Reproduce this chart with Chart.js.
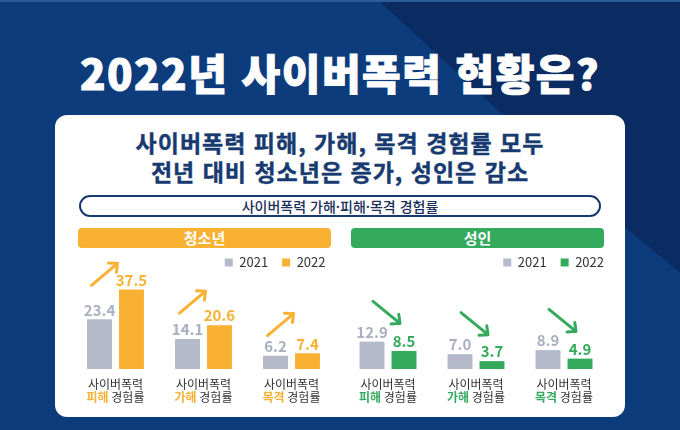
<!DOCTYPE html>
<html lang="ko">
<head>
<meta charset="UTF-8">
<title>2022년 사이버폭력 현황은?</title>
<script src="https://cdn.jsdelivr.net/npm/chart.js"></script>
<style>
  body { margin: 0; width: 680px; height: 430px; overflow: hidden; background: #0d3c7d; position: relative;
         font-family: 'Noto Sans CJK KR', 'Noto Sans', sans-serif; }
  .shade { position: absolute; left: 0; top: 0; width: 680px; height: 430px; background: #0a2c62;
           clip-path: polygon(378px 0, 680px 0, 680px 273px, 626px 228px); }
  .topline { position: absolute; left: 0; top: 0; width: 680px; height: 2px; background: #2b5b98; }
  h1 { position: absolute; left: 0; top: 49px; width: 680px; margin: 0; text-align: center; color: #fff;
       font-size: 42px; font-weight: 900; line-height: 46px; letter-spacing: 1.5px; -webkit-text-stroke: 1px #fff; }
  .card { position: absolute; left: 55px; top: 115px; width: 570px; height: 302px; background: #fff; border-radius: 12px; }
  .sub { position: absolute; left: 55px; top: 128px; width: 570px; margin: 0; text-align: center; color: #173a70;
         font-size: 23px; font-weight: 700; line-height: 29px; letter-spacing: 1px; -webkit-text-stroke: 0.4px #173a70; }
  .pill { position: absolute; left: 79px; top: 195px; width: 518px; height: 18px; border: 2px solid #173a70;
          border-radius: 12px; text-align: center; color: #1b2f5a; font-size: 14px; font-weight: 500; line-height: 18px; }
  .head { position: absolute; top: 228px; height: 20px; border-radius: 4px; color: #fff; text-align: center;
          font-size: 15px; font-weight: 700; line-height: 20px; }
  canvas { position: absolute; }
</style>
</head>
<body>
  <div class="shade"></div>
  <div class="topline"></div>
  <h1>2022년 사이버폭력 현황은?</h1>
  <div class="card"></div>
  <p class="sub">사이버폭력 피해, 가해, 목격 경험률 모두<br>전년 대비 청소년은 증가, 성인은 감소</p>
  <div class="pill">사이버폭력 가해·피해·목격 경험률</div>
  <div class="head" style="left:78px; width:253px; background:#f8b133;">청소년</div>
  <div class="head" style="left:351px; width:253px; background:#34aa5d;">성인</div>

  <canvas id="youthChart" width="290" height="175" style="left:60px; top:245px;"></canvas>
  <canvas id="adultChart" width="290" height="175" style="left:340px; top:245px;"></canvas>

<script>
const groups = ['피해', '가해', '목격'];
const years = ['2021', '2022'];
const youth2021 = [23.4, 14.1, 6.2];
const youth2022 = [37.5, 20.6, 7.4];
const adult2021 = [12.9, 7.0, 8.9];
const adult2022 = [8.5, 3.7, 4.9];

const FONT = "'Noto Sans CJK KR', 'Noto Sans', sans-serif";
const GREY = '#b5bacb';
const GREY_TEXT = '#a9afc0';
const INK = '#333';

function arrow(ctx, x1, y1, x2, y2, color) {
    const a = Math.atan2(y2 - y1, x2 - x1), h = 9;
    ctx.strokeStyle = color;
    ctx.lineWidth = 3;
    ctx.lineCap = 'round';
    ctx.lineJoin = 'round';
    ctx.beginPath();
    ctx.moveTo(x1, y1);
    ctx.lineTo(x2, y2);
    ctx.moveTo(x2 - h * Math.cos(a - 0.75), y2 - h * Math.sin(a - 0.75));
    ctx.lineTo(x2, y2);
    ctx.lineTo(x2 - h * Math.cos(a + 0.75), y2 - h * Math.sin(a + 0.75));
    ctx.stroke();
}

// nudge the legend a little, it sits off the plot edge in the original
const legendShift = {
    id: 'legendShift',
    beforeDraw(chart, args, opts) {
        const lg = chart.legend;
        lg.left += opts.dx; lg.right += opts.dx;
        lg.top += opts.dy; lg.bottom += opts.dy;
    }
};

// value labels, trend arrows and the two-line category captions
const barDecor = {
    id: 'barDecor',
    afterDatasetsDraw(chart, args, opts) {
        const ctx = chart.ctx;
        const xs = chart.scales.x;
        const base = chart.scales.y.getPixelForValue(0);
        const ds = chart.data.datasets;
        const m0 = chart.getDatasetMeta(0).data;
        const m1 = chart.getDatasetMeta(1).data;
        ctx.save();

        ctx.font = 'bold 15px ' + FONT;
        ctx.textAlign = 'center';
        ctx.textBaseline = 'bottom';
        ds.forEach((d, k) => {
            chart.getDatasetMeta(k).data.forEach((bar, i) => {
                ctx.fillStyle = k === 0 ? GREY_TEXT : opts.color;
                ctx.fillText(d.data[i].toFixed(1), bar.x, bar.y - 2);
            });
        });

        groups.forEach((g, i) => {
            const cx = xs.getPixelForValue(i);
            const mid = (m0[i].y + m1[i].y) / 2;
            if (ds[1].data[i] >= ds[0].data[i]) {
                arrow(ctx, cx - 24, mid - 19, cx + 2, mid - 41, opts.color);
            } else {
                arrow(ctx, cx - 15, mid - 45, cx + 12, mid - 23, opts.color);
            }
        });

        ctx.textBaseline = 'middle';
        groups.forEach((g, i) => {
            const cx = xs.getPixelForValue(i);
            ctx.font = '12px ' + FONT;
            ctx.fillStyle = INK;
            ctx.textAlign = 'center';
            ctx.fillText('사이버폭력', cx, base + 15);
            const tail = ' 경험률';
            ctx.font = 'bold 12px ' + FONT;
            const w1 = ctx.measureText(g).width;
            ctx.font = '12px ' + FONT;
            const w2 = ctx.measureText(tail).width;
            const sx = cx - (w1 + w2) / 2;
            ctx.textAlign = 'left';
            ctx.font = 'bold 12px ' + FONT;
            ctx.fillStyle = opts.color;
            ctx.fillText(g, sx, base + 28);
            ctx.font = '12px ' + FONT;
            ctx.fillStyle = INK;
            ctx.fillText(tail, sx + w1, base + 28);
        });
        ctx.restore();
    }
};

function makeChart(id, first, second, color, pad, dx) {
    return new Chart(document.getElementById(id), {
        type: 'bar',
        data: {
            labels: groups,
            datasets: [
                { label: years[0], data: first, backgroundColor: GREY },
                { label: years[1], data: second, backgroundColor: color }
            ]
        },
        options: {
            responsive: false,
            animation: false,
            datasets: { bar: { categoryPercentage: 0.727, barPercentage: 0.78 } },
            layout: { padding: pad },
            scales: {
                x: { display: false },
                y: { display: false, min: 0, max: 41 }
            },
            plugins: {
                tooltip: { enabled: false },
                legend: {
                    position: 'top',
                    align: 'end',
                    labels: { boxWidth: 8, boxHeight: 8, padding: 14, color: INK, font: { size: 13, family: FONT } }
                },
                legendShift: { dx: dx, dy: -3 },
                barDecor: { color: color }
            }
        },
        plugins: [legendShift, barDecor]
    });
}

Chart.defaults.font.family = FONT;
makeChart('youthChart', youth2021, youth2022, '#f8b133', { left: 11.5, right: 14.5, top: 0, bottom: 51 }, 4);
makeChart('adultChart', adult2021, adult2022, '#34aa5d', { left: 4, right: 22, top: 0, bottom: 51 }, 10);
</script>
</body>
</html>
